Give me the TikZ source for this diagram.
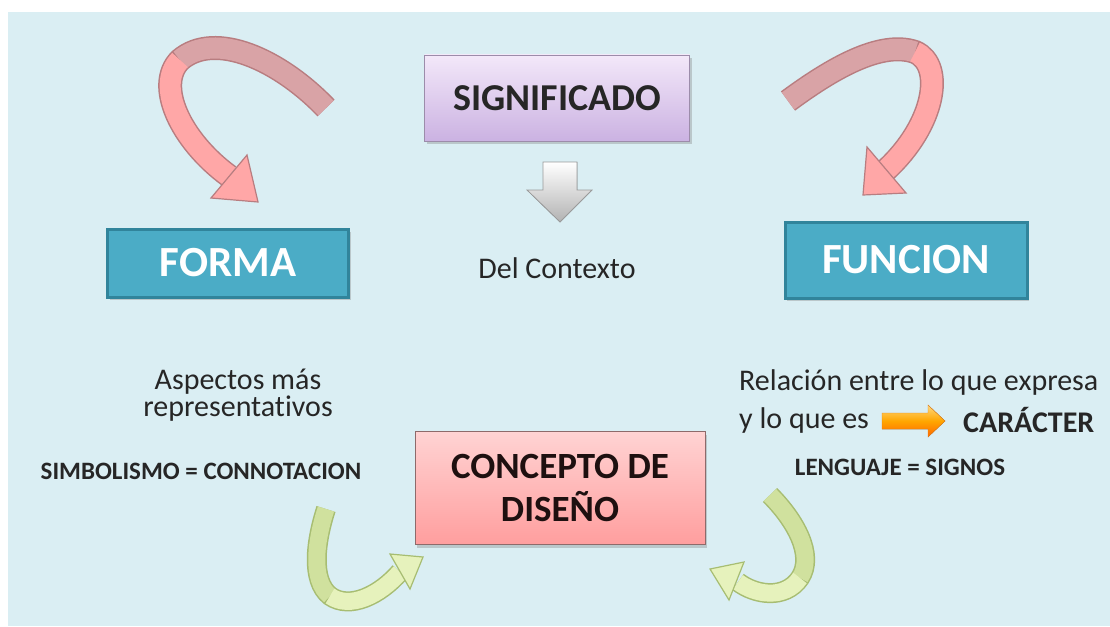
\documentclass[tikz,border=0pt]{standalone}
\usepackage{fontspec}
\setmainfont{Carlito}[Ligatures=NoCommon]
\usetikzlibrary{shadows}
\definecolor{bgblue}{HTML}{DAEEF3}
\definecolor{teal}{HTML}{4BACC6}
\definecolor{tealdark}{HTML}{31849B}
\definecolor{lavtop}{HTML}{F3E8F9}
\definecolor{lavbot}{HTML}{CBB2E2}
\definecolor{lavline}{HTML}{9C8CAA}
\definecolor{pinktop}{HTML}{FFD3D3}
\definecolor{pinkbot}{HTML}{FF9E9E}
\definecolor{pinkline}{HTML}{8E6A6A}
\definecolor{rosedark}{HTML}{D9A3A6}
\definecolor{roselight}{HTML}{FFA7A7}
\definecolor{roseline}{HTML}{B87D80}
\definecolor{greendark}{HTML}{D0E19E}
\definecolor{greenlight}{HTML}{E6F2BC}
\definecolor{greenline}{HTML}{A7BD72}
\definecolor{greyline}{HTML}{9A9A9A}
\definecolor{txtgray}{HTML}{262626}
\definecolor{contxt}{HTML}{1E1010}
\tikzset{
  boxshadow/.style={drop shadow={opacity=0.35, shadow xshift=2pt, shadow yshift=-3pt}},
  sigbox/.style={rectangle, top color=lavtop, bottom color=lavbot, draw=lavline, line width=0.8pt,
    boxshadow, font=\bfseries\fontsize{38}{40}\selectfont, text=txtgray},
  tealbox/.style={rectangle, fill=teal, draw=tealdark, line width=3pt,
    boxshadow, font=\bfseries\fontsize{43}{46}\selectfont, text=white},
  conbox/.style={rectangle, top color=pinktop, bottom color=pinkbot, draw=pinkline, line width=0.8pt,
    boxshadow, font=\bfseries\fontsize{37}{42}\selectfont, text=contxt, align=center},
  txt/.style={inner sep=0pt, font=\fontsize{30}{33}\selectfont, text=txtgray},
  btxt/.style={inner sep=0pt, font=\bfseries\fontsize{25}{28}\selectfont, text=txtgray},
  cartxt/.style={inner sep=0pt, font=\bfseries\fontsize{30}{33}\selectfont, text=txtgray},
  bandborder/.style={line width=24pt, draw=#1},
  bandfill/.style={line width=21pt, draw=#1},
  gbandborder/.style={line width=20pt, draw=#1},
  gbandfill/.style={line width=17pt, draw=#1},
}
\begin{document}
\begin{tikzpicture}[x=1pt,y=-1pt]
\useasboundingbox (0,0) rectangle (1110,626);
\fill[white] (0,0) rectangle (1110,626);
\fill[bgblue] (8,12) rectangle (1110,626);

% boxes
\node[sigbox, minimum width=265pt, minimum height=86pt] (sig) at (557,98) {SIGNIFICADO};
\node[tealbox, minimum width=241pt, minimum height=68pt] (forma) at (228,263) {FORMA};
\node[tealbox, minimum width=242pt, minimum height=76pt] (funcion) at (906,260) {FUNCION};
\node[conbox, minimum width=290pt, minimum height=113pt] (concepto) at (560,488) {CONCEPTO DE\\[1pt]DISEÑO};

% texts
\node[txt] (ctx) at (557,268) {Del Contexto};
\node[txt] (asp1) at (238,382) {Aspectos más};
\node[txt] (asp2) at (238,409) {representativos};
\node[btxt] (simb) at (201,471) {SIMBOLISMO = CONNOTACION};
\node[txt, anchor=west] (rel1) at (739,382) {Relación entre lo que expresa};
\node[txt, anchor=west] (rel2) at (739,420) {y lo que es};
\node[cartxt, anchor=west] (car) at (963,420) {CARÁCTER};
\node[btxt] (leng) at (900,467) {LENGUAJE = SIGNOS};

% grey down arrow
\filldraw[top color=white, bottom color=black!30, draw=greyline, line width=0.8pt]
  (543,162) -- (577,162) -- (577,190) -- (592,190) -- (560,222) -- (527,190) -- (543,190) -- cycle;

% orange arrow
\filldraw[top color=yellow!40!orange!50, bottom color=orange!80!red, middle color=orange!70!yellow, draw=orange!60!brown, line width=0.4pt]
  (882,413) -- (928,413) -- (928,405) -- (945,421) -- (928,437) -- (928,429) -- (882,429) -- cycle;

% left pink curved arrow
\coordinate (lpT) at (326,108);
\coordinate (lpM) at (180,60);
\coordinate (lpB) at (229,176);
\coordinate (lpTip) at (258,202);
\coordinate (lpW1) at (247,155);
\coordinate (lpW2) at (211,198);
\draw[bandborder=roseline] (lpT) .. controls (280,60) and (215,30) .. (lpM) .. controls (155,85) and (180,140) .. (lpB);
\draw[bandfill=rosedark] (lpT) .. controls (280,60) and (215,30) .. (lpM);
\draw[bandfill=roselight] (lpM) .. controls (155,85) and (180,140) .. (lpB);
\filldraw[fill=roselight, draw=roseline, line width=1.2pt] (lpW1) -- (lpTip) -- (lpW2) -- cycle;

% right pink curved arrow
\coordinate (rpT) at (788,101);
\coordinate (rpM) at (915,52);
\coordinate (rpB) at (886,170);
\coordinate (rpTip) at (863,195);
\coordinate (rpW1) at (867,147);
\coordinate (rpW2) at (906,193);
\draw[bandborder=roseline] (rpT) .. controls (830,70) and (880,40) .. (rpM) .. controls (945,65) and (935,125) .. (rpB);
\draw[bandfill=rosedark] (rpT) .. controls (830,70) and (880,40) .. (rpM);
\draw[bandfill=roselight] (rpM) .. controls (945,65) and (935,125) .. (rpB);
\filldraw[fill=roselight, draw=roseline, line width=1.2pt] (rpW1) -- (rpTip) -- (rpW2) -- cycle;

% left green curved arrow
\coordinate (lgT) at (326,509);
\coordinate (lgM) at (330,596);
\coordinate (lgB) at (400,572);
\coordinate (lgTip) at (423,557);
\coordinate (lgW1) at (390,554);
\coordinate (lgW2) at (410,589);
\draw[gbandborder=greenline] (lgT) .. controls (316,540) and (310,580) .. (lgM) .. controls (350,610) and (380,595) .. (lgB);
\draw[gbandfill=greendark] (lgT) .. controls (316,540) and (310,580) .. (lgM);
\draw[gbandfill=greenlight] (lgM) .. controls (350,610) and (380,595) .. (lgB);
\filldraw[fill=greenlight, draw=greenline, line width=1.2pt] (lgW1) -- (lgTip) -- (lgW2) -- cycle;

% right green curved arrow
\coordinate (rgT) at (770,495);
\coordinate (rgM) at (800,578);
\coordinate (rgB) at (738,582);
\coordinate (rgTip) at (710,569);
\coordinate (rgW1) at (744,562);
\coordinate (rgW2) at (729,600);
\draw[gbandborder=greenline] (rgT) .. controls (795,520) and (815,555) .. (rgM) .. controls (785,600) and (755,595) .. (rgB);
\draw[gbandfill=greendark] (rgT) .. controls (795,520) and (815,555) .. (rgM);
\draw[gbandfill=greenlight] (rgM) .. controls (785,600) and (755,595) .. (rgB);
\filldraw[fill=greenlight, draw=greenline, line width=1.2pt] (rgW1) -- (rgTip) -- (rgW2) -- cycle;
\end{tikzpicture}
\end{document}
